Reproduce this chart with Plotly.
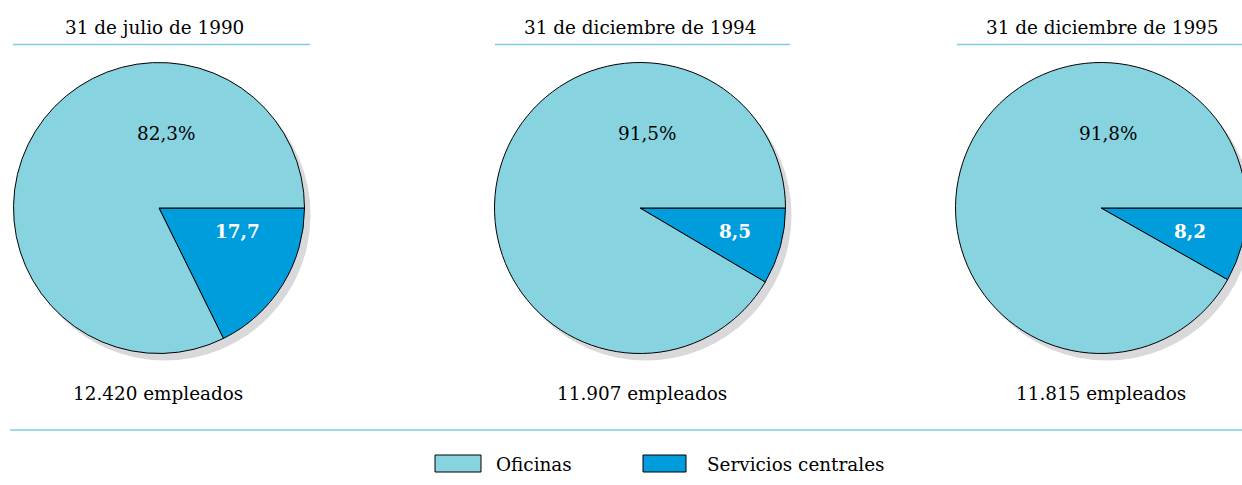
import plotly.graph_objects as go

# ---- data ----
titles = ["31 de julio de 1990", "31 de diciembre de 1994", "31 de diciembre de 1995"]
categories = ["Oficinas", "Servicios centrales"]
oficinas = [82.3, 91.5, 91.8]
servicios = [17.7, 8.5, 8.2]
empleados = ["12.420 empleados", "11.907 empleados", "11.815 empleados"]
oficinas_labels = ["82,3%", "91,5%", "91,8%"]
servicios_labels = ["17,7", "8,5", "8,2"]

colors = ["#88D3E0", "#009DDC"]
shadow_color = "#D9D9DB"
line_color = "#7FCBE6"
FONT = "DejaVu Serif"
FS = 18.4

W, H = 1262, 485
def fx(p): return p / W
def fy(p): return 1 - p / H

R = 145.5
centers_x = [159, 640, 1101]
cy = 208
sdx, sdy = 6, 7

fig = go.Figure()
annotations = []
shapes = []
title_x = [154, 640, 1102]
emp_x = [158, 642, 1101]
under = [(13, 310), (495, 790), (957, 1262)]

def ann(x, y, text, color="black", xanchor="center"):
    annotations.append(dict(x=fx(x), y=fy(y), text=text, showarrow=False,
                            xanchor=xanchor, yanchor="middle",
                            xref="paper", yref="paper",
                            font=dict(family=FONT, size=FS, color=color)))

for i, cx in enumerate(centers_x):
    # shadow
    fig.add_trace(go.Pie(
        values=[1], labels=["sombra"], marker=dict(colors=[shadow_color], line=dict(width=0)),
        domain=dict(x=[fx(cx - R + sdx), fx(cx + R + sdx)], y=[fy(cy + R + sdy), fy(cy - R + sdy)]),
        textinfo="none", hoverinfo="skip", showlegend=False, sort=False))
    fig.add_trace(go.Pie(
        values=[servicios[i], oficinas[i]], labels=[categories[1], categories[0]],
        marker=dict(colors=[colors[1], colors[0]], line=dict(color="black", width=1)),
        domain=dict(x=[fx(cx - R), fx(cx + R)], y=[fy(cy + R), fy(cy - R)]),
        direction="clockwise", rotation=90, sort=False,
        textinfo="none", hoverinfo="label+value", showlegend=False))
    ann(title_x[i], 27, titles[i])
    shapes.append(dict(type="line", xref="paper", yref="paper", x0=fx(under[i][0]), x1=fx(under[i][1]),
                       y0=fy(44.5), y1=fy(44.5), line=dict(color=line_color, width=1.5)))
    ann(cx + 7, 133, oficinas_labels[i])
    ann([237, 735, 1190][i], 231, "<b>" + servicios_labels[i] + "</b>", color="white")
    ann(emp_x[i], 393, empleados[i])

# bottom rule
shapes.append(dict(type="line", xref="paper", yref="paper", x0=fx(10), x1=1, y0=fy(430), y1=fy(430),
                   line=dict(color=line_color, width=1.5)))

# legend (manual)
leg_boxes = [(435, 481), (643, 686)]
leg_text_x = [494, 705]
for j, cat in enumerate(categories):
    shapes.append(dict(type="rect", xref="paper", yref="paper",
                       x0=fx(leg_boxes[j][0]), x1=fx(leg_boxes[j][1]), y0=fy(472), y1=fy(455),
                       fillcolor=colors[j], line=dict(color="black", width=1)))
    ann(leg_text_x[j], 464, cat, xanchor="left")

fig.update_layout(width=W, height=H, margin=dict(l=0, r=0, t=0, b=0),
                  paper_bgcolor="white", plot_bgcolor="white",
                  annotations=annotations, shapes=shapes, showlegend=False)

fig.write_html("out.html", config={"displayModeBar": False},
               post_script="document.body.style.margin='0';document.body.style.overflow='hidden';")
